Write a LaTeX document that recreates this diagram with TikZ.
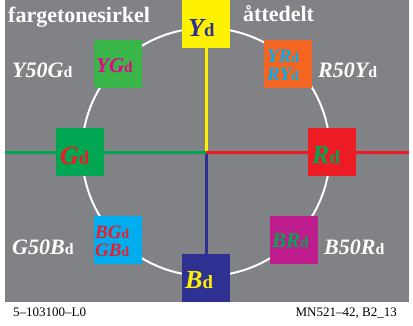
\documentclass[tikz,border=0pt]{standalone}
\usepackage{fontspec}
\setmainfont{Liberation Serif}
\usetikzlibrary{positioning}
\definecolor{bggray}{RGB}{128,130,134}
\definecolor{ylw}{RGB}{255,242,0}
\definecolor{dblue}{RGB}{46,49,146}
\definecolor{ygreen}{RGB}{57,181,74}
\definecolor{gmag}{RGB}{236,0,140}
\definecolor{orng}{RGB}{242,101,34}
\definecolor{cyn}{RGB}{0,174,239}
\definecolor{ggreen}{RGB}{0,166,81}
\definecolor{rred}{RGB}{237,28,36}
\definecolor{bmag}{RGB}{190,30,141}
\newcommand{\dsub}{\scalebox{0.72}{\upshape d}}
\tikzset{
  sq/.style={rectangle, minimum height=48pt, minimum width=48pt, inner sep=0pt
  },
  big/.style={font=\fontsize{26}{26}\selectfont\bfseries\itshape, inner sep=0pt, anchor=base west
  },
  mid/.style={font=\fontsize{21}{21}\selectfont\bfseries\itshape, inner sep=0pt, anchor=base west
  },
  two/.style={font=\fontsize{19}{19}\selectfont\bfseries\itshape, inner sep=0pt, anchor=base west,
    text height=13pt, text depth=0pt
  },
  wlab/.style={font=\fontsize{22}{22}\selectfont\bfseries\itshape, text=white, inner sep=0pt, anchor=base west
  },
  foot/.style={font=\fontsize{13}{13}\selectfont, inner sep=0pt, anchor=base west
  },
  axis/.style={line width=3pt}
}

\begin{document}
\begin{tikzpicture}[x=1pt, y=-1pt]
   \useasboundingbox[fill=white] (0,0) rectangle (413,325);
   \fill[bggray] (5,0) rectangle (409,302);

   \coordinate (c) at (206,152);
   \coordinate (w) at (5,152);
   \coordinate (e) at (409,152);

   \draw[white, line width=2pt] (c) circle[radius=124];

   \node[sq, fill=ylw] (ysq) at (206,24) {};
   \node[sq, fill=dblue] (bsq) at (206,278) {};
   \node[sq, fill=ggreen] (gsq) at (80,152) {};
   \node[sq, fill=rred] (rsq) at (332,152) {};
   \node[sq, fill=ygreen] (ygsq) at (118,64) {};
   \node[sq, fill=orng] (yrsq) at (288,64) {};
   \node[sq, fill=cyn] (bgsq) at (118,240) {};
   \node[sq, fill=bmag] (brsq) at (294,240) {};

   \draw[axis, ylw] (ysq) -- (c);
   \draw[axis, dblue] (c) -- (bsq);
   \draw[axis, ggreen] (w) -- (gsq) -- (c);
   \draw[axis, rred] (c) -- (rsq) -- (e);
   \node[sq, fill=ggreen] at (gsq) {};
   \node[sq, fill=rred] at (rsq) {};

   % texts in the squares
   \node[big, text=dblue] (ytxt) at (188,36) {Y\dsub};
   \node[big, text=ylw] (btxt) at (185,288) {B\dsub};
   \node[big, text=rred] (gtxt) at (60,164) {G\dsub};
   \node[big, text=ggreen] (rtxt) at (312,163) {R\dsub};
   \node[mid, text=gmag] (ygtxt) at (96,72) {YG\dsub};
   \node[mid, text=ggreen] (brtxt) at (272,247) {BR\dsub};
   \node[two, text=cyn] (yrtxt) at (267,62) {YR\dsub};
   \node[two, text=cyn] (rytxt) at (267,80) {RY\dsub};
   \node[two, text=rred] (bgtxt) at (95,238) {BG\dsub};
   \node[two, text=rred] (gbtxt) at (95,256) {GB\dsub};

   % white labels
   \node[wlab, font=\fontsize{22}{22}\selectfont\bfseries] (title) at (8,22) {fargetonesirkel};
   \node[wlab, font=\fontsize{22}{22}\selectfont\bfseries] (sub) at (243,21) {åttedelt};
   \node[wlab] (y50g) at (12,77) {Y50G\dsub};
   \node[wlab] (r50y) at (318,77) {R50Y\dsub};
   \node[wlab] (g50b) at (12,254) {G50B\dsub};
   \node[wlab] (b50r) at (324,254) {B50R\dsub};

   \node[foot] (code) at (13,316) {5--103100--L0};
   \node[foot, anchor=base east] (ref) at (397,316) {MN521--42, B2\_13};
\end{tikzpicture}
\end{document}
